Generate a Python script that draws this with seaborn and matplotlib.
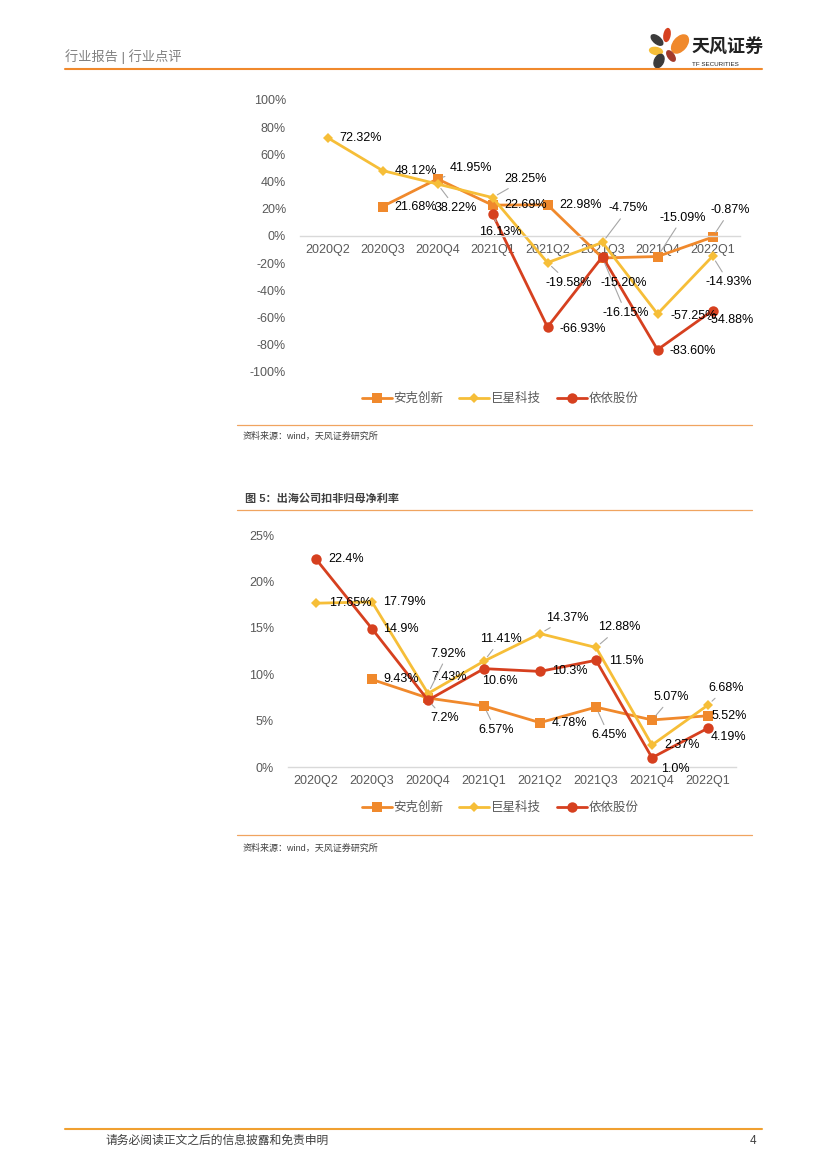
import numpy as np
import pandas as pd
import matplotlib
matplotlib.use("Agg")
import matplotlib.pyplot as plt
import seaborn as sns
from matplotlib.patches import Ellipse

sns.set_theme(style="white")
plt.rcParams['font.family'] = ['Liberation Sans', 'Noto Sans CJK SC', 'DejaVu Sans']

# 数据
quarters = ['2020Q2', '2020Q3', '2020Q4', '2021Q1', '2021Q2', '2021Q3', '2021Q4', '2022Q1']
companies = ['安克创新', '巨星科技', '依依股份']

# 图4：归母净利润同比增速 (%)
growth_anker = [np.nan, 21.68, 41.95, 22.69, 22.98, -16.15, -15.09, -0.87]
growth_jx = [72.32, 48.12, 38.22, 28.25, -19.58, -4.75, -57.25, -14.93]
growth_yy = [np.nan, np.nan, np.nan, 16.13, -66.93, -15.20, -83.60, -54.88]

# 图5：扣非归母净利率 (%)
margin_anker = [np.nan, 9.43, 7.43, 6.57, 4.78, 6.45, 5.07, 5.52]
margin_jx = [17.65, 17.79, 7.92, 11.41, 14.37, 12.88, 2.37, 6.68]
margin_yy = [22.4, 14.9, 7.2, 10.6, 10.3, 11.5, 1.0, 4.19]

colors = {'安克创新': '#F0892C', '巨星科技': '#F6BE38', '依依股份': '#D6401F'}
markers = {'安克创新': 's', '巨星科技': 'D', '依依股份': 'o'}
msizes = {'安克创新': 7.5, '巨星科技': 5.5, '依依股份': 7.5}

# 数据标签位置 (像素偏移 dx, dy, 是否引线)
top_lbl = {
    '安克创新': {1: (12, 0, 0), 2: (12, 11, 1), 3: (12, 0, 0), 4: (12, 0, 0),
                5: (0, -55, 1), 6: (2, 39, 1), 7: (-2, 27, 1)},
    '巨星科技': {0: (12, 0, 0), 1: (12, 0, 0), 2: (-3, -24, 1), 3: (12, 19, 1),
                4: (-2, -20, 1), 5: (6, 34, 1), 6: (13, -2, 0), 7: (-7, -26, 1)},
    '依依股份': {3: (-13, -18, 1), 4: (12, -2, 0), 5: (-2, -26, 0), 6: (12, -1, 0),
                7: (-5, -9, 0)},
}
bot_lbl = {
    '安克创新': {1: (11, 0, 0), 2: (3, 21, 0), 3: (-6, -24, 1), 4: (12, 0, 0),
                5: (-5, -28, 1), 6: (2, 23, 1), 7: (4, 0, 0)},
    '巨星科技': {0: (13, 0, 0), 1: (11, 0, 0), 2: (2, 40, 1), 3: (-4, 22, 1),
                4: (6, 16, 1), 5: (2, 20, 1), 6: (12, 0, 0), 7: (0, 17, 1)},
    '依依股份': {0: (12, 0, 0), 1: (11, 0, 0), 2: (2, -18, 1), 3: (-2, -12, 0),
                4: (12, 0, 0), 5: (13, -1, 0), 6: (9, -11, 0), 7: (3, -9, 0)},
}


def long_df(a, b, c):
    rows = []
    for name, vals in zip(companies, [a, b, c]):
        for i, v in enumerate(vals):
            rows.append({'x': i, 'v': v, 'c': name})
    return pd.DataFrame(rows)


def draw(ax, df, lbls, fmt):
    for name in companies:
        sub = df[df.c == name].dropna()
        sns.lineplot(data=sub, x='x', y='v', ax=ax, color=colors[name], lw=2.0,
                     marker=markers[name], markersize=msizes[name],
                     markeredgewidth=0, label=name, legend=False)
    for name in companies:
        sub = df[df.c == name].dropna()
        for _, r in sub.iterrows():
            i = int(r.x)
            dx, dy, lead = lbls[name][i]
            txt = fmt(r.v) + '%'
            kw = {}
            if lead:
                kw['arrowprops'] = dict(arrowstyle='-', color='#a6a6a6', lw=0.8,
                                        shrinkA=1, shrinkB=4)
            ax.annotate(txt, xy=(i, r.v), xytext=(dx, dy), textcoords='offset pixels',
                        ha='left', va='center', fontsize=9, color='black', zorder=5, **kw)
    ax.set_xticks(range(len(quarters)))
    ax.set_xticklabels(quarters)
    ax.set_xlim(-0.5, 7.5)
    ax.set_xlabel('')
    ax.set_ylabel('')
    for s in ['top', 'right', 'left']:
        ax.spines[s].set_visible(False)
    ax.spines['bottom'].set_color('#d9d9d9')
    ax.spines['bottom'].set_linewidth(1)
    ax.tick_params(axis='both', length=0, labelsize=9, labelcolor='#595959', pad=6)


def add_legend(ax, y):
    h, l = ax.get_legend_handles_labels()
    fig.legend(h, l, loc='center', bbox_to_anchor=(500 / 827, 1 - y / 1169), ncol=3,
               frameon=False, fontsize=9, labelcolor='#595959', handlelength=2.4,
               columnspacing=1.3, handletextpad=0.1)


fig = plt.figure(figsize=(8.27, 11.69), dpi=100)

# 页眉
fig.text(65 / 827, 1 - 57 / 1169, '行业报告 | 行业点评', fontsize=9.5, color='#808080',
         va='center')
fig.add_artist(plt.Line2D([65 / 827, 762 / 827], [1 - 69 / 1169] * 2, color='#F0892C', lw=1.5))
pet = fig.add_axes([640 / 827, 1 - 75 / 1169, 50 / 827, 50 / 1169])
pet.set_xlim(0, 50)
pet.set_ylim(50, 0)
pet.axis('off')
for (cx, cy, w, h, ang, col) in [(27, 10, 6, 13, 10, '#D6401F'), (17, 15, 7, 14, -50, '#3b3b3b'),
                                   (40, 19, 13, 21, 40, '#F0892C'), (16, 26, 13, 7, 10, '#F6BE38'),
                                   (31, 31, 6, 12, -35, '#A33A2A'), (19, 36, 9, 14, 25, '#3b3b3b')]:
    pet.add_patch(Ellipse((cx, cy), w, h, angle=ang, color=col))
fig.text(692 / 827, 1 - 48 / 1169, '天风证券', fontsize=13, fontweight='bold', color='#222222',
         va='center')
fig.text(692 / 827, 1 - 64 / 1169, 'TF SECURITIES', fontsize=4.5, color='#222222', va='center')

# 图4
ax1 = fig.add_axes([300 / 827, 1 - 372 / 1169, 440 / 827, 272 / 1169])
draw(ax1, long_df(growth_anker, growth_jx, growth_yy), top_lbl, lambda v: f'{v:.2f}')
ax1.set_ylim(-100, 100)
ax1.set_yticks(np.arange(-100, 101, 20))
ax1.set_yticklabels([f'{v}%' for v in range(-100, 101, 20)])
ax1.spines['bottom'].set_position(('data', 0))
ax1.tick_params(axis='y', pad=10)
add_legend(ax1, 399)
fig.add_artist(plt.Line2D([237 / 827, 752 / 827], [1 - 425 / 1169] * 2, color='#F0A460', lw=0.9))
fig.text(243 / 827, 1 - 436 / 1169, '资料来源：wind，天风证券研究所', fontsize=6.5, color='#404040',
         va='center')

# 图5
fig.text(245 / 827, 1 - 499 / 1169, '图 5：出海公司扣非归母净利率', fontsize=8, fontweight='bold',
         color='#404040', va='center')
fig.add_artist(plt.Line2D([237 / 827, 752 / 827], [1 - 510 / 1169] * 2, color='#F0A460', lw=0.9))
ax2 = fig.add_axes([288 / 827, 1 - 767 / 1169, 448 / 827, 232 / 1169])
draw(ax2, long_df(margin_anker, margin_jx, margin_yy), bot_lbl, lambda v: str(v))
ax2.set_ylim(0, 25)
ax2.set_yticks(np.arange(0, 26, 5))
ax2.set_yticklabels([f'{v}%' for v in range(0, 26, 5)])
ax2.tick_params(axis='y', pad=10)
add_legend(ax2, 808)
fig.add_artist(plt.Line2D([237 / 827, 752 / 827], [1 - 835 / 1169] * 2, color='#F0A460', lw=0.9))
fig.text(243 / 827, 1 - 848 / 1169, '资料来源：wind，天风证券研究所', fontsize=6.5, color='#404040',
         va='center')

# 页脚
fig.add_artist(plt.Line2D([65 / 827, 762 / 827], [1 - 1129 / 1169] * 2, color='#F0A030', lw=1.5))
fig.text(105 / 827, 1 - 1141 / 1169, '请务必阅读正文之后的信息披露和免责申明', fontsize=8.5,
         color='#404040', va='center')
fig.text(756 / 827, 1 - 1141 / 1169, '4', fontsize=8.5, color='#404040', va='center', ha='right')

fig.savefig('out.png', dpi=100)
